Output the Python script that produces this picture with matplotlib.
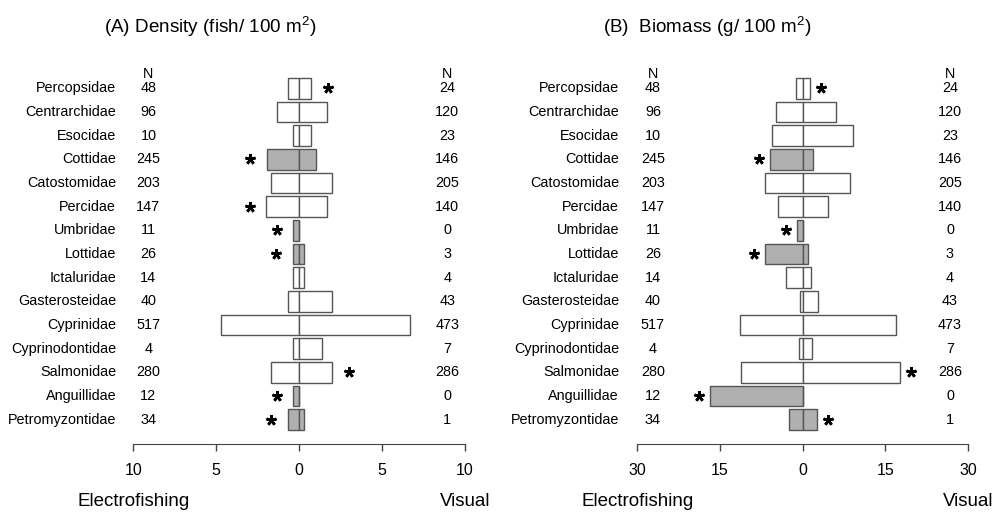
import matplotlib
matplotlib.use("Agg")
import matplotlib.pyplot as plt

plt.rcParams.update({
    "font.family": "Liberation Sans",
    "mathtext.fontset": "custom",
    "mathtext.rm": "Liberation Sans",
})

# ---------------------------------------------------------------------------
# data
# ---------------------------------------------------------------------------
families = ["Percopsidae", "Centrarchidae", "Esocidae", "Cottidae",
            "Catostomidae", "Percidae", "Umbridae", "Lottidae", "Ictaluridae",
            "Gasterosteidae", "Cyprinidae", "Cyprinodontidae", "Salmonidae",
            "Anguillidae", "Petromyzontidae"]
n_electro = [48, 96, 10, 245, 203, 147, 11, 26, 14, 40, 517, 4, 280, 12, 34]
n_visual = [24, 120, 23, 146, 205, 140, 0, 3, 4, 43, 473, 7, 286, 0, 1]

dens_electro = [0.66, 1.33, 0.34, 1.96, 1.66, 1.98, 0.34, 0.39, 0.34, 0.66,
                4.68, 0.34, 1.66, 0.34, 0.66]
dens_visual = [0.73, 1.69, 0.73, 1.05, 2.01, 1.69, 0.0, 0.32, 0.32, 2.01,
               6.68, 1.37, 2.01, 0.0, 0.32]

bio_electro = [1.27, 4.9, 5.5, 5.87, 6.84, 4.42, 0.97, 6.84, 3.09, 0.43,
               11.38, 0.61, 11.26, 16.77, 2.43]
bio_visual = [1.39, 5.99, 9.07, 1.81, 8.53, 4.65, 0.0, 1.02, 1.57, 2.84,
              16.99, 1.69, 17.7, 0.0, 2.65]

shaded = [False, False, False, True, False, False, True, True, False, False,
          False, False, False, True, True]

# side of the significance star: L = electrofishing, R = visual, "" = none
dens_star = ["R", "", "", "L", "", "L", "L", "L", "", "", "", "", "R", "L", "L"]
bio_star = ["R", "", "", "L", "", "", "L", "L", "", "", "", "", "R", "L", "R"]

dens_ticks = [-10, -5, 0, 5, 10]
bio_ticks = [-30, -15, 0, 15, 30]

# ---------------------------------------------------------------------------
W, H = 993, 512
fig = plt.figure(figsize=(W / 100, H / 100), dpi=100)

Y_BOT, Y_TOP = 444, 60          # pixel rows of axes box
ROW0, DROW = 88.3, 23.66        # pixel centre of first row, spacing


def make_axes(x0, x1):
    return fig.add_axes([x0 / W, 1 - Y_BOT / H, (x1 - x0) / W,
                         (Y_BOT - Y_TOP) / H])


def draw_panel(ax, electro, visual, stars, ticks, star_off,
               x_name, x_nl, x_nr, title, x_title):
    rows = list(range(len(families)))
    cols = ["#b0b0b0" if s else "white" for s in shaded]
    ax.barh(rows, [-v for v in electro], height=0.87, color=cols,
            edgecolor="#555555", linewidth=1.0, zorder=2)
    ax.barh(rows, visual, height=0.87, color=cols,
            edgecolor="#555555", linewidth=1.0, zorder=2)

    for i, side in enumerate(stars):
        if side == "L":
            xs = -electro[i] - star_off
        elif side == "R":
            xs = visual[i] + star_off
        else:
            continue
        ax.plot(xs, i, marker=(5, 2, 0), ms=7.5, mew=1.9, color="black",
                clip_on=False)

    fs = 10.4
    for i, name in enumerate(families):
        ax.text(x_name, i, name, ha="right", va="center", fontsize=fs,
                clip_on=False)
        ax.text(x_nl, i, str(n_electro[i]), ha="center", va="center",
                fontsize=fs, clip_on=False)
        ax.text(x_nr, i, str(n_visual[i]), ha="center", va="center",
                fontsize=fs, clip_on=False)
    ax.text(x_nl, -0.62, "N", ha="center", va="center", fontsize=fs,
            clip_on=False)
    ax.text(x_nr, -0.62, "N", ha="center", va="center", fontsize=fs,
            clip_on=False)

    ax.set_xlim(ticks[0], ticks[-1])
    ax.set_ylim((Y_BOT - ROW0) / DROW, (Y_TOP - ROW0) / DROW)
    ax.set_xticks(ticks)
    ax.set_xticklabels([str(abs(t)) for t in ticks], fontsize=11.5)
    ax.tick_params(axis="x", length=5.3, width=1.0, color="#444444", pad=8.5)
    ax.set_yticks([])
    for s in ["top", "left", "right"]:
        ax.spines[s].set_visible(False)
    ax.spines["bottom"].set_color("#444444")

    y_lab = (502 - ROW0) / DROW
    ax.text(ticks[0], y_lab, "Electrofishing", ha="center", va="center",
            fontsize=13.5, clip_on=False)
    ax.text(ticks[-1], y_lab, "Visual", ha="center", va="center",
            fontsize=13.5, clip_on=False)
    ax.text(x_title, (27 - ROW0) / DROW, title, ha="center", va="center",
            fontsize=13.6, clip_on=False)


# left panel: 0 at px 298.7, 16.57 px per unit
axA = make_axes(133.3, 464.7)
draw_panel(axA, dens_electro, dens_visual, dens_star, dens_ticks, 1.0,
           -11.03, -9.09, 8.95,
           r"(A) Density (fish/ 100 $\mathregular{m^2}$)", -5.35)

# right panel: 0 at px 802.7, 5.51 px per unit
axB = make_axes(637.4, 968.0)
draw_panel(axB, bio_electro, bio_visual, bio_star, bio_ticks, 2.0,
           -33.34, -27.17, 26.73,
           r"(B)  Biomass (g/ 100 $\mathregular{m^2}$)", -17.4)

fig.savefig("out.png", dpi=100)
